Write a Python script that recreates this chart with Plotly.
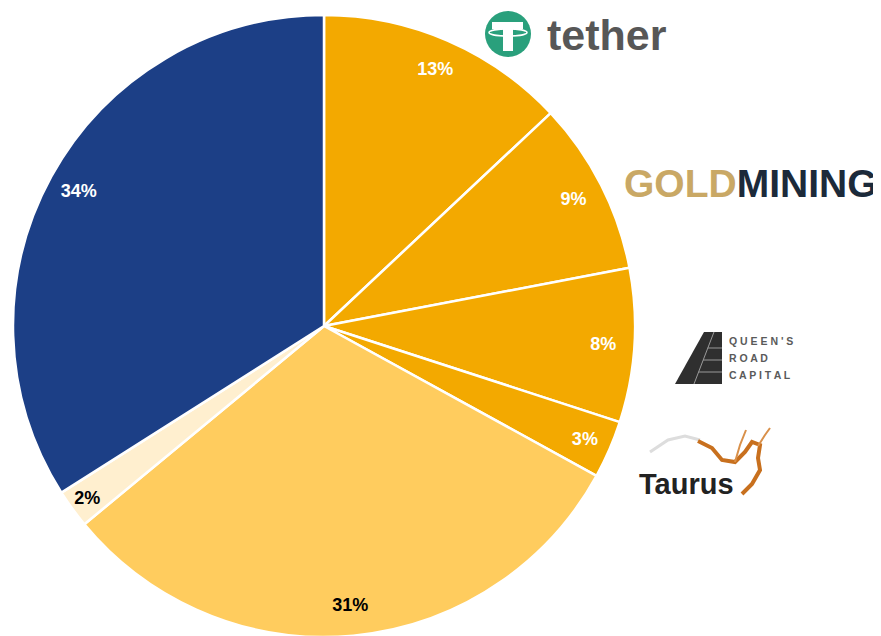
import plotly.graph_objects as go

# slice data, clockwise from 12 o'clock
labels = ["Tether", "GoldMining", "Queen's Road Capital", "Taurus", "Other A", "Other B", "Other C"]
values = [13, 9, 8, 3, 31, 2, 34]
pct_text = ["13%", "9%", "8%", "3%", "31%", "2%", "34%"]
colors = ["#F3A900", "#F3A900", "#F3A900", "#F3A900", "#FFCC5E", "#FFEFCF", "#1C3F86"]
text_colors = ["white", "white", "white", "white", "black", "black", "white"]

W, H = 881, 636
OFF = 8  # page body margin


def px(x, y):
    return (x - OFF) / W, 1 - (y - OFF) / H


dom_x = [(13 - OFF) / W, (635 - OFF) / W]
dom_y = [1 - (637 - OFF) / H, 1 - (15 - OFF) / H]

fig = go.Figure()

# the pie itself
fig.add_trace(go.Pie(
    labels=labels,
    values=values,
    sort=False,
    direction="clockwise",
    rotation=0,
    marker=dict(colors=colors, line=dict(color="white", width=2.5)),
    textinfo="none",
    hoverinfo="label+percent",
    showlegend=False,
    domain=dict(x=dom_x, y=dom_y),
))

# transparent ring on top, used only to place the labels near the rim
fig.add_trace(go.Pie(
    labels=labels,
    values=values,
    sort=False,
    direction="clockwise",
    rotation=0,
    hole=0.8,
    marker=dict(colors=["rgba(0,0,0,0)"] * len(values), line=dict(width=0)),
    text=["<b>%s</b>" % t for t in pct_text],
    textinfo="text",
    textposition="inside",
    insidetextorientation="horizontal",
    textfont=dict(family="Arial, Liberation Sans", size=18, color=text_colors),
    hoverinfo="skip",
    showlegend=False,
    domain=dict(x=dom_x, y=dom_y),
))

shapes = []
annotations = []


def path_from(points, close=False):
    parts = []
    for i, (a, b) in enumerate(points):
        x, y = px(a, b)
        parts.append(("M" if i == 0 else "L") + " %.5f %.5f" % (x, y))
    return " ".join(parts) + (" Z" if close else "")


def txt(x, y, text, size, color="#000", family="Arial", anchor="left"):
    ax, ay = px(x, y)
    annotations.append(dict(x=ax, y=ay, xref="paper", yref="paper", xanchor=anchor,
                            yanchor="middle", text=text, showarrow=False,
                            font=dict(family=family, size=size, color=color)))


# tether logo
x0, y0 = px(508 - 23, 34 + 23)
x1, y1 = px(508 + 23, 34 - 23)
shapes.append(dict(type="circle", xref="paper", yref="paper", x0=x0, x1=x1, y0=y0, y1=y1,
                   fillcolor="#2AA07C", line=dict(width=0)))
shapes.append(dict(type="path", xref="paper", yref="paper",
                   path=path_from([(492, 22), (523, 22), (523, 29), (492, 29)], True),
                   fillcolor="white", line=dict(width=0)))
shapes.append(dict(type="path", xref="paper", yref="paper",
                   path=path_from([(503, 29), (513, 29), (513, 51), (503, 51)], True),
                   fillcolor="white", line=dict(width=0)))
ex0, ey0 = px(489, 36)
ex1, ey1 = px(527, 29)
shapes.append(dict(type="circle", xref="paper", yref="paper", x0=ex0, x1=ex1, y0=ey0, y1=ey1,
                   line=dict(color="white", width=1.5)))
txt(545, 35, "<b>tether</b>", 43, "#575757")

# goldmining logo
txt(622, 184, "<b><span style='color:#C9A865'>GOLD</span>"
              "<span style='color:#1C2A3A'>MINING</span></b>", 39)

# queen's road capital logo
shapes.append(dict(type="path", xref="paper", yref="paper",
                   path=path_from([(675, 384), (704, 332), (722, 332), (722, 384)], True),
                   fillcolor="#2F2F2F", line=dict(width=0)))
shapes.append(dict(type="path", xref="paper", yref="paper",
                   path=path_from([(694, 384), (714, 332)]),
                   line=dict(color="#9A9A9A", width=1)))
for yy in [348, 360, 372]:
    shapes.append(dict(type="path", xref="paper", yref="paper",
                       path=path_from([(694 + (384 - yy) * 0.38, yy), (722, yy)]),
                       line=dict(color="#9A9A9A", width=1)))
for i, word in enumerate(["Q U E E N ' S", "R O A D", "C A P I T A L"]):
    txt(727, 341 + i * 17, "<b>%s</b>" % word, 10.5, "#5A5A5A")

# taurus logo
shapes.append(dict(type="path", xref="paper", yref="paper",
                   path=path_from([(650, 452), (668, 440), (685, 436), (700, 440)]),
                   line=dict(color="#DDDDDD", width=3)))
shapes.append(dict(type="path", xref="paper", yref="paper",
                   path=path_from([(698, 441), (712, 448), (722, 460), (735, 462), (745, 452),
                                   (752, 442), (760, 445), (758, 458), (760, 470), (752, 484),
                                   (742, 494)]),
                   line=dict(color="#C8701E", width=4)))
shapes.append(dict(type="path", xref="paper", yref="paper",
                   path=path_from([(735, 462), (740, 445), (746, 430)]),
                   line=dict(color="#D9904A", width=2)))
shapes.append(dict(type="path", xref="paper", yref="paper",
                   path=path_from([(758, 446), (765, 435), (770, 428)]),
                   line=dict(color="#D9904A", width=2)))
txt(637, 484, "<b>Taurus</b>", 29, "#222222")

fig.update_layout(
    width=W, height=H,
    margin=dict(l=0, r=0, t=0, b=0),
    paper_bgcolor="white",
    plot_bgcolor="white",
    shapes=shapes,
    annotations=annotations,
)

fig.write_html("out.html")
